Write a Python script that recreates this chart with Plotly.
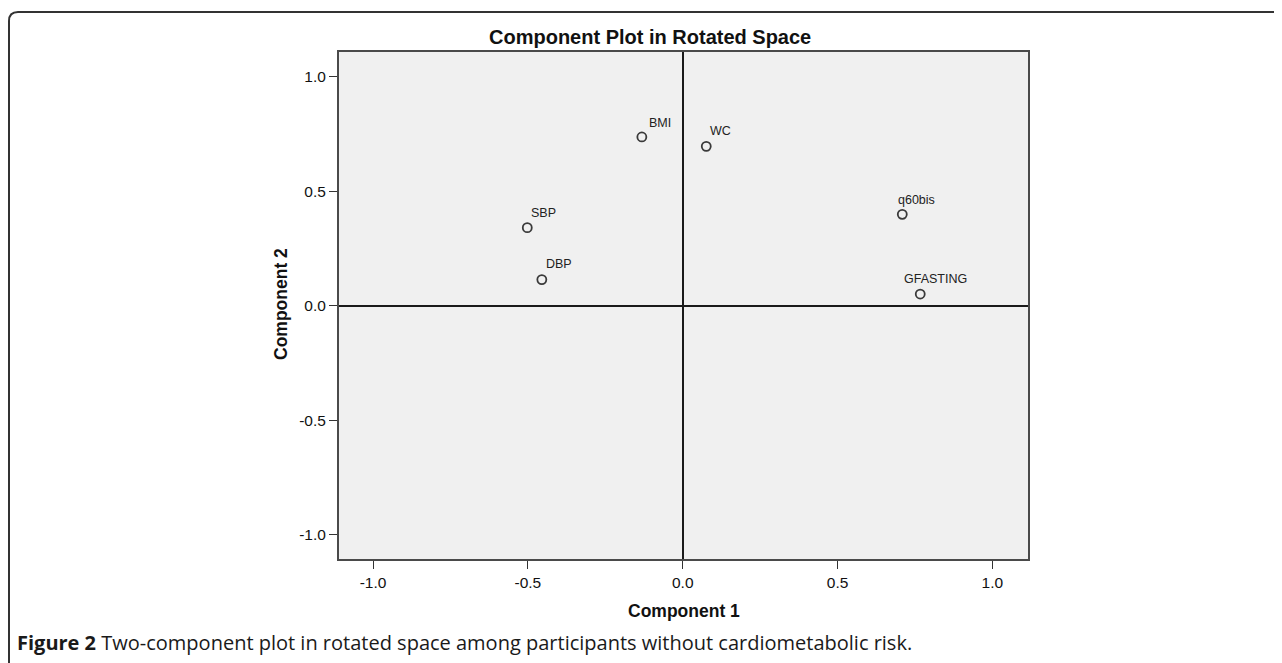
import plotly.graph_objects as go

# Data
variables = ["BMI", "WC", "SBP", "DBP", "q60bis", "GFASTING"]
component1 = [-0.132, 0.076, -0.502, -0.455, 0.709, 0.767]
component2 = [0.738, 0.697, 0.342, 0.115, 0.400, 0.052]
tick_values = [-1.0, -0.5, 0.0, 0.5, 1.0]
tick_labels = ["-1.0", "-0.5", "0.0", "0.5", "1.0"]

# label offsets (pixels) relative to each point
label_dx = [5, 2, 2, 2, -6, -18]
label_dy = [14, 15, 15, 16, 14, 15]

OFF = 8  # page body margin
W, H = 1282 - OFF, 663 - OFF
# plot area in screen pixels
SL, SR, ST, SB = 339, 1028, 52, 559
L, R, T, B = SL - OFF, SR - OFF, ST - OFF, SB - OFF

fig = go.Figure()
fig.add_trace(go.Scatter(
    x=component1, y=component2, mode="markers",
    marker=dict(symbol="circle-open", size=9, color="#3a3a3a", line=dict(width=1.8)),
    hoverinfo="text", text=variables, showlegend=False,
))

for v, cx, cy, dx, dy in zip(variables, component1, component2, label_dx, label_dy):
    fig.add_annotation(x=cx, y=cy, text=v, showarrow=False, xanchor="left", yanchor="middle",
                       xshift=dx, yshift=dy,
                       font=dict(family="Liberation Sans, Arial", size=12.5, color="#222"))

def px(x):
    return (x - SL) / (SR - SL)

def py(y):
    return (SB - y) / (SB - ST)

axis_common = dict(
    tickmode="array", tickvals=tick_values, ticktext=tick_labels,
    ticks="outside", ticklen=8, tickwidth=1.4, tickcolor="#333",
    showgrid=False, zeroline=True, zerolinecolor="#1a1a1a", zerolinewidth=1.6,
    showline=True, mirror=True, linecolor="#4a4a4a", linewidth=2,
    tickfont=dict(family="Liberation Sans, Arial", size=15.5, color="#111"),
)

fig.update_layout(
    width=W, height=H,
    margin=dict(l=L, r=W - R, t=T, b=H - B, pad=0),
    paper_bgcolor="white", plot_bgcolor="#f0f0f0",
    xaxis=dict(range=[-1.11, 1.115], **axis_common),
    yaxis=dict(range=[-1.105, 1.109], **axis_common),
)

# titles
fig.add_annotation(xref="paper", yref="paper", x=px(650), y=py(37), text="<b>Component Plot in Rotated Space</b>",
                   showarrow=False, xanchor="center", yanchor="middle",
                   font=dict(family="Liberation Sans, Arial", size=20, color="#111"))
fig.add_annotation(xref="paper", yref="paper", x=px(683.5), y=py(611), text="<b>Component 1</b>",
                   showarrow=False, xanchor="center", yanchor="middle",
                   font=dict(family="Liberation Sans, Arial", size=17.5, color="#111"))
fig.add_annotation(xref="paper", yref="paper", x=px(281), y=py(304), text="<b>Component 2</b>",
                   showarrow=False, xanchor="center", yanchor="middle", textangle=-90,
                   font=dict(family="Liberation Sans, Arial", size=17.5, color="#111"))

# caption
fig.add_annotation(xref="paper", yref="paper", x=px(15), y=py(642),
                   text="<b>Figure 2</b> Two-component plot in rotated space among participants without cardiometabolic risk.",
                   showarrow=False, xanchor="left", yanchor="middle",
                   font=dict(family="Open Sans", size=20, color="#1a1a1a"))

# outer rounded frame (extends beyond the right and bottom)
r = 9
path = (f"M {px(1300)},{py(12)} L {px(9 + r)},{py(12)} "
        f"Q {px(9)},{py(12)} {px(9)},{py(12 + r)} L {px(9)},{py(680)}")
fig.add_shape(type="path", xref="paper", yref="paper", path=path,
              line=dict(color="#333", width=2))

fig.write_html("out.html")
